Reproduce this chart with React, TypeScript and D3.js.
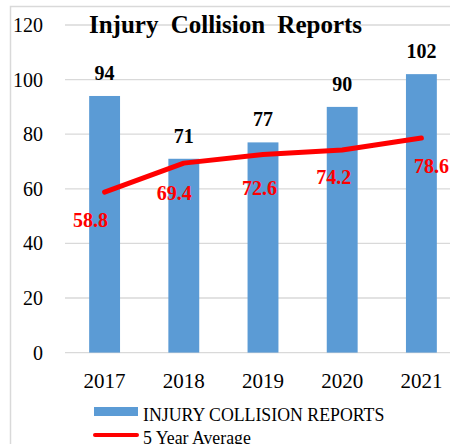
import React, { useEffect, useRef } from 'react';
import * as d3 from 'd3';

const years = ['2017', '2018', '2019', '2020', '2021'];
const reports = [94, 71, 77, 90, 102];
const fiveYearAvg = [58.8, 69.4, 72.6, 74.2, 78.6];
const yTicks = [0, 20, 40, 60, 80, 100, 120];
// hand-placed average labels (offset from the point), as in the original
const avgLabelOffset = [
  [-14, 35],
  [-9.5, 37],
  [-3.5, 41],
  [-8.5, 34],
  [10, 35],
];

const App: React.FC = () => {
  const svgRef = useRef<SVGSVGElement>(null);

  useEffect(() => {
    const width = 450;
    const height = 444;
    const font = '"Liberation Serif", "Times New Roman", serif';

    const svg = d3.select(svgRef.current);
    svg.selectAll('*').remove();
    svg.attr('width', width).attr('height', height);

    svg.append('rect').attr('width', width).attr('height', height).attr('fill', '#fff');

    // chart border (clipped at right / bottom in the original)
    svg.append('path')
      .attr('d', 'M10.5,460 L10.5,6.5 L460,6.5')
      .attr('fill', 'none')
      .attr('stroke', '#d9d9d9')
      .attr('stroke-width', 1.5);

    const x = d3.scaleBand<string>()
      .domain(years)
      .range([65, 461])
      .paddingInner(0.61)
      .paddingOuter(0.305);

    const y = d3.scaleLinear().domain([0, 120]).range([352.6, 25]);

    // gridlines
    svg.append('g')
      .selectAll('line')
      .data(yTicks)
      .enter()
      .append('line')
      .attr('x1', 65)
      .attr('x2', 461)
      .attr('y1', d => y(d))
      .attr('y2', d => y(d))
      .attr('stroke', '#d9d9d9')
      .attr('stroke-width', 1.3);

    // y labels
    svg.append('g')
      .selectAll('text')
      .data(yTicks)
      .enter()
      .append('text')
      .attr('x', 43)
      .attr('y', d => y(d) + 7)
      .attr('text-anchor', 'end')
      .attr('font-family', font)
      .attr('font-size', 20)
      .attr('fill', '#000')
      .text(d => d);

    // x labels
    svg.append('g')
      .selectAll('text')
      .data(years)
      .enter()
      .append('text')
      .attr('x', d => (x(d) || 0) + x.bandwidth() / 2)
      .attr('y', 388)
      .attr('text-anchor', 'middle')
      .attr('font-family', font)
      .attr('font-size', 21)
      .attr('fill', '#000')
      .text(d => d);

    // bars
    svg.append('g')
      .selectAll('rect')
      .data(reports)
      .enter()
      .append('rect')
      .attr('x', (d, i) => x(years[i]) || 0)
      .attr('y', d => y(d))
      .attr('width', x.bandwidth())
      .attr('height', d => y(0) - y(d))
      .attr('fill', '#5b9bd5');

    // bar value labels
    svg.append('g')
      .selectAll('text')
      .data(reports)
      .enter()
      .append('text')
      .attr('x', (d, i) => (x(years[i]) || 0) + x.bandwidth() / 2)
      .attr('y', d => y(d) - 16)
      .attr('text-anchor', 'middle')
      .attr('font-family', font)
      .attr('font-size', 20)
      .attr('font-weight', 'bold')
      .attr('fill', '#000')
      .text(d => d);

    // 5 year average line
    const cx = (i: number) => (x(years[i]) || 0) + x.bandwidth() / 2;
    const line = d3.line<number>()
      .x((d, i) => cx(i))
      .y(d => y(d));

    svg.append('path')
      .datum(fiveYearAvg)
      .attr('d', line)
      .attr('fill', 'none')
      .attr('stroke', '#ff0000')
      .attr('stroke-width', 5)
      .attr('stroke-linecap', 'round')
      .attr('stroke-linejoin', 'round');

    svg.append('g')
      .selectAll('text')
      .data(fiveYearAvg)
      .enter()
      .append('text')
      .attr('x', (d, i) => cx(i) + avgLabelOffset[i][0])
      .attr('y', (d, i) => y(d) + avgLabelOffset[i][1])
      .attr('text-anchor', 'middle')
      .attr('font-family', font)
      .attr('font-size', 20)
      .attr('font-weight', 'bold')
      .attr('fill', '#ff0000')
      .text(d => d.toFixed(1));

    // title
    svg.append('text')
      .attr('x', 225.5)
      .attr('y', 33)
      .attr('text-anchor', 'middle')
      .attr('font-family', font)
      .attr('font-size', 25)
      .attr('font-weight', 'bold')
      .attr('word-spacing', 6)
      .attr('fill', '#000')
      .text('Injury Collision Reports');

    // legend
    const legend = svg.append('g');
    legend.append('rect')
      .attr('x', 94)
      .attr('y', 407)
      .attr('width', 44)
      .attr('height', 9)
      .attr('fill', '#5b9bd5');
    legend.append('text')
      .attr('x', 143)
      .attr('y', 421)
      .attr('font-family', font)
      .attr('font-size', 17.8)
      .attr('fill', '#000')
      .text('INJURY COLLISION REPORTS');
    legend.append('line')
      .attr('x1', 95)
      .attr('x2', 137)
      .attr('y1', 435)
      .attr('y2', 435)
      .attr('stroke', '#ff0000')
      .attr('stroke-width', 4)
      .attr('stroke-linecap', 'round');
    legend.append('text')
      .attr('x', 143)
      .attr('y', 444)
      .attr('font-family', font)
      .attr('font-size', 17.8)
      .attr('fill', '#000')
      .text('5 Year Average');
  }, []);

  return (
    <svg
      ref={svgRef}
      style={{ position: 'fixed', left: 0, top: 0, display: 'block' }}
    ></svg>
  );
};

export default App;
